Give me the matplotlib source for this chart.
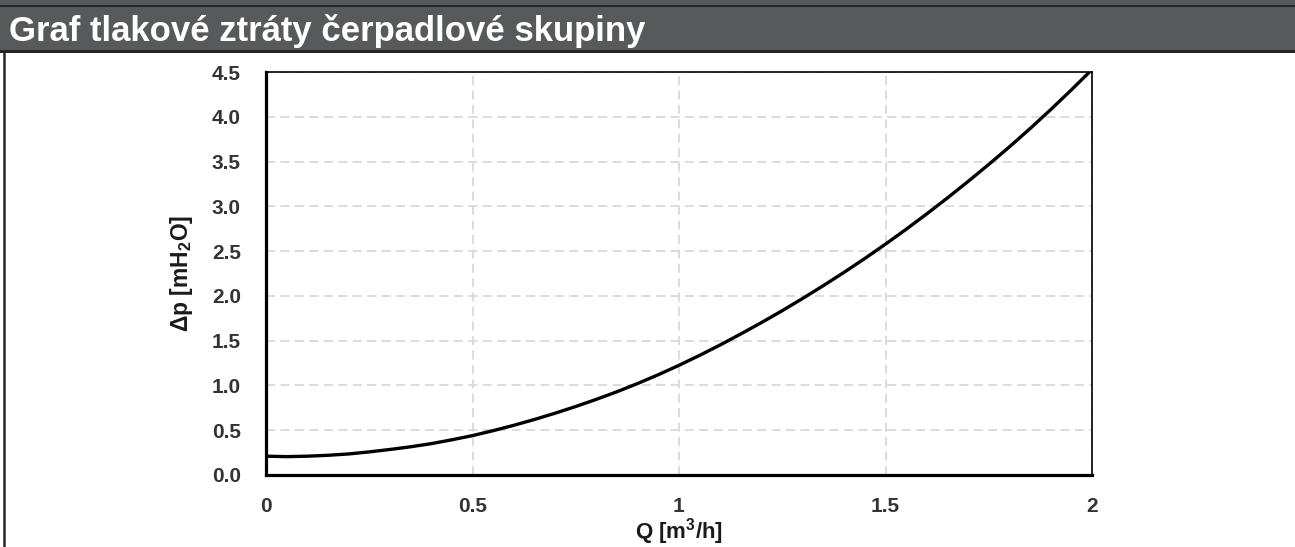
import matplotlib
matplotlib.use('Agg')
import matplotlib.pyplot as plt
from matplotlib.patches import Rectangle
from matplotlib.lines import Line2D

# Fonts: Arial-like bold everywhere, mathtext in the same family
plt.rcParams['font.family'] = ['Liberation Sans', 'DejaVu Sans']
plt.rcParams['mathtext.fontset'] = 'custom'
plt.rcParams['mathtext.rm'] = 'Liberation Sans:bold'
plt.rcParams['mathtext.bf'] = 'Liberation Sans:bold'
plt.rcParams['mathtext.it'] = 'Liberation Sans:bold'
plt.rcParams['mathtext.default'] = 'bf'

# Data
flow = [0.00, 0.05, 0.10, 0.15, 0.20, 0.25, 0.30, 0.35, 0.40, 0.45, 0.50,
        0.55, 0.60, 0.65, 0.70, 0.75, 0.80, 0.85, 0.90, 0.95, 1.00,
        1.05, 1.10, 1.15, 1.20, 1.25, 1.30, 1.35, 1.40, 1.45, 1.50,
        1.55, 1.60, 1.65, 1.70, 1.75, 1.80, 1.85, 1.90, 1.95, 2.00]
dp = [0.21, 0.205, 0.21, 0.22, 0.235, 0.258, 0.285, 0.315, 0.35, 0.393, 0.44,
      0.495, 0.555, 0.62, 0.69, 0.765, 0.845, 0.93, 1.022, 1.12, 1.225,
      1.336, 1.453, 1.576, 1.703, 1.835, 1.973, 2.116, 2.264, 2.418, 2.578,
      2.744, 2.916, 3.094, 3.278, 3.468, 3.664, 3.868, 4.08, 4.30, 4.528]

x_ticks = [0, 0.5, 1, 1.5, 2]
x_tick_labels = ['0', '0.5', '1', '1.5', '2']
y_ticks = [0.0, 0.5, 1.0, 1.5, 2.0, 2.5, 3.0, 3.5, 4.0, 4.5]

title = 'Graf tlakové ztráty čerpadlové skupiny'

W, H = 1295, 547
fig = plt.figure(figsize=(W / 100, H / 100), dpi=100)
fig.patch.set_facecolor('white')

# Title bar
fig.patches.append(Rectangle((0, 1 - 52 / H), 1, 52 / H, transform=fig.transFigure,
                             facecolor='#58595b', edgecolor='none', zorder=0))
fig.patches.append(Rectangle((0, 1 - 53 / H), 1, 3 / H, transform=fig.transFigure,
                             facecolor='#262626', edgecolor='none', zorder=1))
fig.patches.append(Rectangle((0, 1 - 7 / H), 1, 2 / H, transform=fig.transFigure,
                             facecolor='#262626', edgecolor='none', zorder=1))
fig.text(9 / W, 1 - 31 / H, title, color='white', fontsize=25, fontweight='bold',
         ha='left', va='center')

# Left frame line
fig.add_artist(Line2D([3.5 / W, 3.5 / W], [0, 1 - 53 / H], transform=fig.transFigure,
                      color='#262626', linewidth=1.8))

ax = fig.add_axes([266 / W, 1 - 475 / H, (1092 - 266) / W, (475 - 72) / H])
ax.plot(flow, dp, color='black', linewidth=2.4, solid_capstyle='butt', zorder=3)

ax.set_xlim(0, 2)
ax.set_ylim(0, 4.5)
ax.set_xticks(x_ticks)
ax.set_xticklabels(x_tick_labels)
ax.set_yticks(y_ticks)
ax.set_yticklabels([f'{v:.1f}' for v in y_ticks])
ax.tick_params(length=0, labelsize=15, labelcolor='#333333')
ax.tick_params(axis='y', pad=18)
ax.tick_params(axis='x', pad=16)
for lab in ax.get_xticklabels() + ax.get_yticklabels():
    lab.set_fontweight('bold')

ax.grid(True, color='#d9d9d9', linestyle=(0, (5, 3)), linewidth=1.3)
ax.set_axisbelow(True)

ax.spines['left'].set_linewidth(2.3)
ax.spines['bottom'].set_linewidth(2.3)
ax.spines['top'].set_linewidth(1.2)
ax.spines['right'].set_linewidth(1.2)
for s in ax.spines.values():
    s.set_color('black')

ax.set_ylabel(r'$\Delta$p [mH$_2$O]', fontsize=16.5, color='#1a1a1a',
              fontweight='bold', labelpad=12)
fig.text((266 + 1092) / 2 / W, 1 - 532 / H, r'Q [m$^3$/h]', fontsize=16,
         color='#1a1a1a', ha='center', va='center', fontweight='bold')

fig.savefig('out.png', dpi=100)
